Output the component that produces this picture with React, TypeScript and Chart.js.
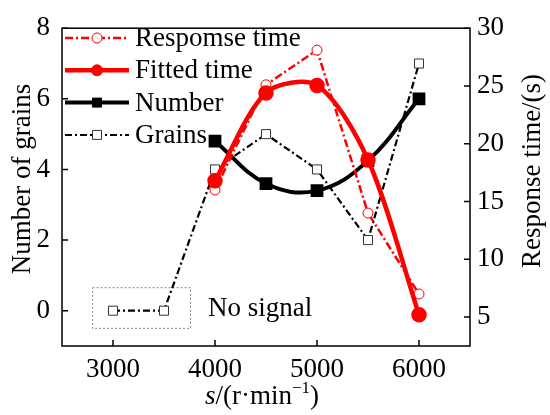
import React, { useEffect, useRef } from "react";
import { Chart, registerables } from "chart.js";

Chart.register(...registerables);

const FONT = '"Liberation Serif", "Times New Roman", Times, serif';

// values
const grainSpeeds = [3000, 3500, 4000, 4500, 5000, 5500, 6000];
const grainCounts = [0, 0, 4, 5, 4, 2, 7];
const fitSpeeds = [4000, 4500, 5000, 5500, 6000];
const numberValues = [4.8, 3.6, 3.4, 4.25, 6.0];
const responseValues = [16.0, 25.1, 28.1, 14.0, 7.0];
const fittedValues = [16.8, 24.4, 25.05, 18.6, 5.2];

const xTicks = [3000, 4000, 5000, 6000];
const leftTicks = [0, 2, 4, 6, 8];
const rightTicks = [5, 10, 15, 20, 25, 30];

const legendItems = [
  { label: "Respomse time", color: "#ff0000", dash: [8, 3, 2, 3], width: 2.5, marker: "circle", fill: "#fff" },
  { label: "Fitted time", color: "#ff0000", dash: [], width: 4.5, marker: "circle", fill: "#ff0000" },
  { label: "Number", color: "#000", dash: [], width: 4, marker: "rect", fill: "#000" },
  { label: "Grains", color: "#000", dash: [7, 3, 2, 3], width: 2, marker: "rect", fill: "#fff" },
];

const pts = (xs: number[], ys: number[]) => xs.map((x, i) => ({ x, y: ys[i] }));

const drawMarker = (ctx: CanvasRenderingContext2D, kind: string, x: number, y: number, fill: string, stroke: string) => {
  ctx.save();
  ctx.setLineDash([]);
  ctx.fillStyle = fill;
  ctx.strokeStyle = stroke;
  ctx.lineWidth = 1;
  ctx.beginPath();
  if (kind === "circle") ctx.arc(x, y, fill === "#fff" ? 5 : 5.5, 0, Math.PI * 2);
  else ctx.rect(x - 4.5, y - 4.5, 9, 9);
  ctx.fill();
  ctx.stroke();
  ctx.restore();
};

const decor = {
  id: "decor",
  beforeDatasetsDraw(chart: any) {
    const { ctx, scales } = chart;
    // "no signal" box
    const x1 = scales.x.getPixelForValue(2800);
    const x2 = scales.x.getPixelForValue(3760);
    const y1 = scales.y.getPixelForValue(0.65);
    const y2 = scales.y.getPixelForValue(-0.5);
    ctx.save();
    ctx.strokeStyle = "#888";
    ctx.lineWidth = 1;
    ctx.setLineDash([2, 2]);
    ctx.strokeRect(x1, y1, x2 - x1, y2 - y1);
    ctx.restore();
  },
  afterDraw(chart: any) {
    const { ctx, chartArea: a, scales } = chart;
    ctx.save();
    ctx.strokeStyle = "#000";
    ctx.lineWidth = 1.5;
    ctx.setLineDash([]);
    ctx.strokeRect(a.left, a.top, a.right - a.left, a.bottom - a.top);
    const tl = 6;
    ctx.beginPath();
    xTicks.forEach((v) => {
      const p = scales.x.getPixelForValue(v);
      ctx.moveTo(p, a.bottom);
      ctx.lineTo(p, a.bottom - tl);
    });
    leftTicks.forEach((v) => {
      const p = scales.y.getPixelForValue(v);
      ctx.moveTo(a.left, p);
      ctx.lineTo(a.left + tl, p);
    });
    rightTicks.forEach((v) => {
      const p = scales.y1.getPixelForValue(v);
      ctx.moveTo(a.right, p);
      ctx.lineTo(a.right - tl, p);
    });
    ctx.stroke();

    // legend
    ctx.font = `27px ${FONT}`;
    ctx.textBaseline = "middle";
    ctx.textAlign = "left";
    ctx.fillStyle = "#000";
    legendItems.forEach((it, i) => {
      const y = 38 + i * 32.3;
      ctx.save();
      ctx.strokeStyle = it.color;
      ctx.lineWidth = it.width;
      ctx.setLineDash(it.dash);
      ctx.beginPath();
      ctx.moveTo(65, y);
      ctx.lineTo(129, y);
      ctx.stroke();
      ctx.restore();
      drawMarker(ctx, it.marker, 97, y, it.fill, it.marker === "rect" && it.fill === "#fff" ? "#333" : it.color);
      ctx.fillText(it.label, 135, y + 1);
    });

    // annotation text
    ctx.fillText("No signal", 208, scales.y.getPixelForValue(0) - 2);

    // axis titles
    ctx.textAlign = "center";
    ctx.save();
    ctx.translate(23, 179);
    ctx.rotate(-Math.PI / 2);
    ctx.fillText("Number of grains", 0, 0);
    ctx.restore();
    ctx.save();
    ctx.translate(533, 171);
    ctx.rotate(-Math.PI / 2);
    ctx.fillText("Response time/(s)", 0, 0);
    ctx.restore();

    // x title: s/(r·min⁻¹)
    ctx.textAlign = "left";
    ctx.textBaseline = "alphabetic";
    const base = 404;
    let x = 205;
    ctx.font = `italic 27px ${FONT}`;
    ctx.fillText("s", x, base);
    x += ctx.measureText("s").width;
    ctx.font = `27px ${FONT}`;
    ctx.fillText("/(r·min", x, base);
    x += ctx.measureText("/(r·min").width;
    ctx.font = `17px ${FONT}`;
    ctx.fillText("\u22121", x, base - 11);
    x += ctx.measureText("\u22121").width;
    ctx.font = `27px ${FONT}`;
    ctx.fillText(")", x, base);
    ctx.restore();
  },
};

const App: React.FC = () => {
  const canvasRef = useRef<HTMLCanvasElement | null>(null);

  useEffect(() => {
    if (!canvasRef.current) return;
    const tickFont = { family: FONT, size: 27 };
    const plain = (v: any) => String(v);
    const chart = new Chart(canvasRef.current, {
      type: "line",
      data: {
        datasets: [
          {
            label: "Fitted time",
            data: pts(fitSpeeds, fittedValues),
            yAxisID: "y1",
            borderColor: "#ff0000",
            borderWidth: 4.5,
            tension: 0.3,
            pointRadius: 5.5,
            pointBackgroundColor: "#ff0000",
            pointBorderColor: "#ff0000",
          },
          {
            label: "Respomse time",
            data: pts(fitSpeeds, responseValues),
            yAxisID: "y1",
            borderColor: "#ff0000",
            borderWidth: 2.5,
            borderDash: [8, 3, 2, 3],
            tension: 0,
            pointRadius: 5,
            pointBorderWidth: 1,
            pointBackgroundColor: "#fff",
            pointBorderColor: "#ff0000",
          },
          {
            label: "Number",
            data: pts(fitSpeeds, numberValues),
            yAxisID: "y",
            borderColor: "#000",
            borderWidth: 4,
            tension: 0.4,
            pointStyle: "rect",
            pointRadius: 6.2,
            pointBackgroundColor: "#000",
            pointBorderColor: "#000",
          },
          {
            label: "Grains",
            data: pts(grainSpeeds, grainCounts),
            yAxisID: "y",
            borderColor: "#000",
            borderWidth: 2.2,
            borderDash: [7, 3, 2, 3],
            tension: 0,
            pointStyle: "rect",
            pointRadius: 6.4,
            pointBorderWidth: 1,
            pointBackgroundColor: "#fff",
            pointBorderColor: "#333",
          },
        ],
      },
      options: {
        animation: false,
        responsive: true,
        maintainAspectRatio: false,
        layout: { padding: { top: 22, left: 0, right: 0, bottom: 0 } },
        plugins: { legend: { display: false }, tooltip: { enabled: false } },
        scales: {
          x: {
            type: "linear",
            min: 2500,
            max: 6500,
            afterBuildTicks: (s: any) => {
              s.ticks = xTicks.map((value) => ({ value }));
            },
            afterFit: (s: any) => {
              s.height = 69;
            },
            grid: { display: false, drawTicks: false },
            border: { display: false },
            ticks: { font: tickFont, color: "#000", padding: 8, maxRotation: 0, callback: plain },
          },
          y: {
            type: "linear",
            position: "left",
            min: -1,
            max: 8,
            afterBuildTicks: (s: any) => {
              s.ticks = leftTicks.map((value) => ({ value }));
            },
            afterFit: (s: any) => {
              s.width = 62;
            },
            grid: { display: false, drawTicks: false },
            border: { display: false },
            ticks: { font: tickFont, color: "#000", padding: 12, callback: plain },
          },
          y1: {
            type: "linear",
            position: "right",
            min: 2.5,
            max: 30,
            afterBuildTicks: (s: any) => {
              s.ticks = rightTicks.map((value) => ({ value }));
            },
            afterFit: (s: any) => {
              s.width = 80;
            },
            grid: { display: false, drawTicks: false },
            border: { display: false },
            ticks: { font: tickFont, color: "#000", padding: 7, callback: plain },
          },
        },
      },
      plugins: [decor],
    });
    return () => {
      chart.destroy();
    };
  }, []);

  return (
    <div style={{ position: "fixed", left: 0, top: 0, width: 550, height: 415, background: "#fff" }}>
      <canvas ref={canvasRef} />
    </div>
  );
};

export default App;
